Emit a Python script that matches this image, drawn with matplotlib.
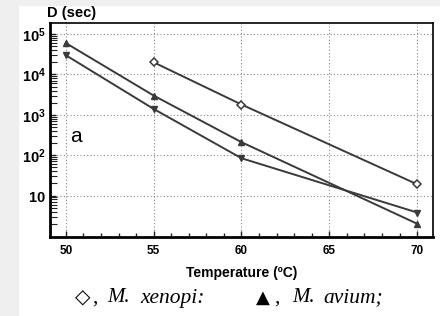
import numpy as np
import matplotlib.pyplot as plt
from matplotlib.patches import Rectangle
from matplotlib.ticker import LogLocator, FixedLocator, NullFormatter

plt.rcParams["mathtext.fontset"] = "custom"
plt.rcParams["mathtext.rm"] = "Liberation Sans"
plt.rcParams["mathtext.bf"] = "Liberation Sans:bold"

# D-values
temp_xenopi = [55, 60, 70]
d_xenopi = [2.0e4, 1.8e3, 19]
temp_avium = [50, 55, 60, 70]
d_avium = [6.0e4, 3.0e3, 210, 2.0]
temp_third = [50, 55, 60, 70]
d_third = [3.0e4, 1.4e3, 84, 3.8]

ytick_vals = [10, 1e2, 1e3, 1e4, 1e5]
ytick_labels = [r"$\mathbf{10}$", r"$\mathbf{10^2}$", r"$\mathbf{10^3}$",
                r"$\mathbf{10^4}$", r"$\mathbf{10^5}$"]
xtick_vals = [50, 55, 60, 65, 70]

fig = plt.figure(figsize=(4.4, 3.16), dpi=100)
fig.patches.append(Rectangle((0, 0), 18 / 440, 1, transform=fig.transFigure,
                             color="#efefef", zorder=-10))
fig.patches.append(Rectangle((0, 1 - 5 / 316), 1, 5 / 316, transform=fig.transFigure,
                             color="#efefef", zorder=-10))

ax = fig.add_axes([50 / 440, 79 / 316, 383 / 440, 214 / 316])
lc = "#3a3a3a"
ax.plot(temp_xenopi, d_xenopi, color=lc, lw=1.4, marker="D", ms=4.5,
        mfc="white", mec=lc, mew=1.1)
ax.plot(temp_avium, d_avium, color=lc, lw=1.4, marker="^", ms=5, mfc=lc, mec=lc)
ax.plot(temp_third, d_third, color=lc, lw=1.4, marker="v", ms=5, mfc=lc, mec=lc)

ax.set_yscale("log")
ax.set_xlim(49.1, 70.9)
ax.set_ylim(0.94, 10 ** 5.275)

ax.set_yticks(ytick_vals)
ax.set_yticklabels(ytick_labels)
ax.yaxis.set_minor_locator(LogLocator(base=10, subs=np.arange(2, 10), numticks=20))
ax.yaxis.set_minor_formatter(NullFormatter())
ax.set_xticks(xtick_vals)
ax.set_xticklabels([str(v) for v in xtick_vals])
ax.xaxis.set_minor_locator(FixedLocator(np.arange(50, 71, 1)))

ax.grid(True, which="major", color="#888888", ls=(0, (1, 2)), lw=0.8)
ax.tick_params(which="both", direction="in", color="#222222")
ax.tick_params(which="major", length=4, width=1)
ax.tick_params(which="minor", length=3, width=1)
ax.tick_params(axis="y", which="minor", length=5, width=0.8)
ax.tick_params(axis="y", labelsize=10.5, pad=3)
ax.tick_params(axis="x", labelsize=8.5, pad=6)
for lab in ax.get_xticklabels():
    lab.set_fontweight("bold")
    lab.set_family("Liberation Sans")
for side in ["left", "bottom"]:
    ax.spines[side].set_linewidth(2)
for side in ["top", "right"]:
    ax.spines[side].set_linewidth(1.2)

ax.set_xlabel("Temperature (ºC)", fontsize=10, fontweight="bold",
              family="Liberation Sans", labelpad=6)
fig.text(47 / 440, 1 - 13 / 316, "D (sec)", fontsize=10.5, fontweight="bold",
         family="Liberation Sans", va="center", ha="left")
ax.text(70 / 440, 1 - 137 / 316, "a", transform=fig.transFigure, fontsize=15,
        family="Liberation Sans", va="center", ha="left")

cy = 1 - 298 / 316
serif = ["Liberation Serif"]
fig.text(75 / 440, cy, "◇", fontsize=14.5, family=["DejaVu Sans"], va="center", ha="left")
fig.text(92 / 440, cy, ",", fontsize=15, family=serif, va="center", ha="left")
fig.text(107 / 440, cy, "M.", fontsize=15, style="italic",
         family=serif, va="center", ha="left")
fig.text(140 / 440, cy, "xenopi:", fontsize=15.5, style="italic",
         family=serif, va="center", ha="left")
fig.text(256 / 440, cy, "▲", fontsize=13, family=["DejaVu Sans"], va="center", ha="left")
fig.text(274 / 440, cy, ",", fontsize=15, family=serif, va="center", ha="left")
fig.text(292 / 440, cy, "M.", fontsize=15, style="italic",
         family=serif, va="center", ha="left")
fig.text(323 / 440, cy, "avium;", fontsize=15.5, style="italic",
         family=serif, va="center", ha="left")

fig.savefig("out.png", dpi=100)
